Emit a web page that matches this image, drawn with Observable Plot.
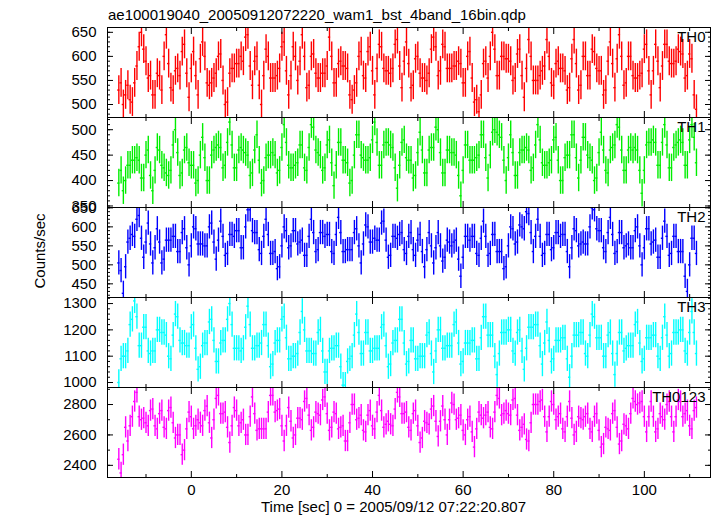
<!DOCTYPE html>
<html><head><meta charset="utf-8">
<script src="https://cdn.jsdelivr.net/npm/d3@7"></script>
<script src="https://cdn.jsdelivr.net/npm/@observablehq/plot@0.6"></script>
<style>
body{margin:0;background:#fff;}
#chart{position:relative;width:717px;height:516px;font-family:"Liberation Sans",Arial,Helvetica,sans-serif;color:#000;overflow:hidden;background:#fff}
.t{position:absolute;font-size:15px;line-height:15px;white-space:nowrap}
#chart svg{position:absolute;left:0;overflow:visible}
</style></head><body>
<div id="chart">
  <div class="t" id="title" style="left:108px;top:7px">ae100019040_20050912072220_wam1_bst_4band_16bin.qdp</div>
  <div class="t" id="ylab" style="left:39px;top:251px;transform:translate(-50%,-50%) rotate(-90deg)">Counts/sec</div>
  <div class="t" id="xlab" style="left:261px;top:499px">Time [sec] 0 = 2005/09/12 07:22:20.807</div>
</div>
<script>
// ---- data: 0.5 s bins starting at t = -16 s ----
const timeStart = -16;
const binSize = 0.5;
const panelLabels = ["TH0", "TH1", "TH2", "TH3", "TH0123"];
const panelColors = ["#ff0000", "#00ee00", "#0000ff", "#00ffff", "#ff00ff"];
const yDomains = [[473, 660], [347, 524], [414, 651], [981, 1323], [2320, 2912]];
const yMajorTicks = [[500, 550, 600, 650], [350, 400, 450, 500], [450, 500, 550, 600, 650], [1000, 1100, 1200, 1300], [2400, 2600, 2800]];
const yMinorSteps = [10, 10, 10, 20, 100];
const errorBars = [30, 27, 32, 48, 70];
const xMajorTicks = [0, 20, 40, 60, 80, 100];
const xMinorTicks = [-10, 10, 30, 50, 70, 90, 110];

const th0 = [
530,545,500,520,540,510,505,545,580,620,650,615,590,555,560,520,
520,565,560,530,600,645,585,535,530,570,575,560,610,625,565,515,
575,610,560,520,595,630,600,545,540,545,555,565,600,605,550,500,
505,565,575,575,585,585,600,590,640,645,580,540,590,600,540,500,
560,615,600,555,555,555,560,575,620,630,570,520,560,620,600,550,
590,645,600,535,540,600,605,565,555,555,565,565,580,640,600,545,
545,585,590,580,580,575,520,510,530,545,600,610,560,555,610,620,
570,520,575,625,620,575,570,570,565,575,625,635,580,535,590,630,
585,535,540,595,600,565,555,555,550,565,615,640,620,560,570,625,
620,575,575,575,580,580,590,585,545,545,600,610,555,505,510,485,
520,585,590,555,600,650,615,560,560,600,600,595,595,590,550,555,
605,615,560,515,575,635,600,550,550,550,560,570,580,635,600,545,
540,585,590,575,575,570,530,535,595,635,585,530,540,600,600,560,
560,615,610,575,570,570,520,530,590,630,585,535,595,645,600,540,
545,600,600,560,555,555,560,565,615,625,570,520,570,625,590,535,
580,625,625,590,585,585,590,615,610,605,555,560,605,595,520,490];

const th1 = [
395,420,380,400,430,430,440,440,445,440,405,405,450,460,410,380,
420,465,460,430,425,415,410,420,470,500,455,410,415,460,465,435,
430,430,395,400,450,485,445,400,400,450,460,465,470,465,425,430,
475,515,470,425,425,460,465,460,455,450,410,415,460,490,440,395,
400,445,450,450,455,450,415,420,465,510,475,430,425,425,430,435,
470,470,425,420,465,510,505,460,455,450,420,425,470,480,435,390,
430,475,475,440,440,435,395,400,450,490,490,450,445,440,440,445,
480,515,475,430,430,470,475,475,470,465,425,385,430,475,480,445,
440,440,405,410,455,495,460,415,415,460,465,465,505,500,455,415,
415,460,460,455,455,450,410,370,420,470,470,440,440,440,445,450,
490,490,445,405,450,495,500,495,490,485,440,400,445,490,455,410,
410,455,460,460,465,460,420,425,470,510,480,435,430,430,435,440,
480,485,440,400,400,445,450,450,490,490,445,405,440,485,485,450,
445,440,400,405,455,495,460,420,415,460,465,470,510,505,460,420,
420,460,465,460,465,460,420,375,420,470,475,475,480,475,430,430,
475,510,470,425,425,465,470,475,480,475,430,430,480,510,485,435];

const th2 = [
505,485,425,495,560,570,580,575,620,630,570,520,560,610,555,505,
545,595,560,505,515,565,565,565,575,575,535,535,585,595,545,500,
550,600,595,555,555,555,550,550,600,610,560,515,565,615,575,525,
530,580,580,575,590,590,545,545,600,645,645,590,585,585,540,530,
575,620,580,530,530,535,490,495,550,600,590,545,550,590,590,555,
560,565,525,525,575,620,585,535,540,585,585,575,580,580,535,530,
580,625,585,535,535,540,540,540,585,595,550,505,555,605,600,560,
560,570,565,565,610,615,565,520,525,575,575,570,580,585,540,530,
575,585,540,525,565,580,535,495,540,585,550,505,545,585,550,510,
520,565,560,550,560,565,515,470,520,575,575,565,575,575,530,525,
570,615,575,525,530,580,580,535,535,535,490,495,550,600,595,555,
560,605,600,595,640,635,585,535,575,620,575,525,530,580,580,540,
545,585,585,575,580,580,535,495,545,595,590,550,555,560,555,555,
600,650,645,595,590,590,545,535,585,625,580,530,535,585,585,545,
550,555,545,545,590,600,550,500,545,595,595,555,560,565,520,520,
570,615,575,525,530,575,575,535,535,535,470,430,500,570,570,530];

const th3 = [
1000,1090,1100,1100,1120,1220,1240,1310,1250,1140,1140,1210,1210,1120,1110,1120,
1120,1200,1200,1190,1190,1180,1100,1090,1180,1260,1250,1160,1150,1150,1140,1140,
1210,1220,1130,1050,1060,1140,1150,1150,1230,1240,1160,1080,1080,1150,1160,1160,
1240,1300,1220,1130,1130,1130,1120,1130,1210,1290,1220,1130,1130,1140,1140,1150,
1220,1220,1140,1060,1070,1150,1160,1160,1240,1250,1170,1090,1090,1100,1100,1110,
1190,1270,1200,1120,1120,1120,1110,1110,1190,1200,1120,1040,1040,1120,1130,1130,
1140,1140,1060,990,990,1080,1090,1100,1180,1260,1190,1110,1110,1190,1190,1120,
1120,1130,1130,1130,1210,1220,1140,1060,1070,1150,1160,1160,1240,1240,1150,1070,
1080,1160,1160,1090,1090,1100,1100,1100,1180,1190,1110,1040,1120,1200,1200,1130,
1130,1140,1140,1140,1220,1230,1150,1070,1080,1150,1150,1150,1160,1160,1090,1090,
1170,1250,1250,1180,1180,1180,1100,1030,1110,1190,1190,1190,1200,1200,1120,1110,
1190,1200,1120,1050,1130,1210,1210,1210,1220,1220,1140,1070,1150,1230,1160,1080,
1090,1160,1160,1160,1170,1170,1090,1020,1100,1180,1180,1180,1190,1190,1110,1100,
1180,1260,1250,1170,1170,1170,1100,1100,1180,1190,1110,1030,1110,1190,1190,1120,
1130,1140,1140,1140,1220,1230,1150,1080,1090,1170,1170,1170,1180,1180,1100,1090,
1170,1250,1180,1100,1110,1190,1190,1190,1200,1200,1120,1110,1190,1270,1190,1110];

const th0123 = [
2440,2350,2470,2650,2560,2660,2720,2820,2880,2720,2700,2710,2680,2660,2760,2770,
2660,2640,2740,2760,2650,2640,2760,2780,2680,2580,2600,2600,2470,2500,2640,2750,
2720,2640,2660,2700,2680,2660,2760,2790,2680,2580,2700,2840,2860,2740,2740,2750,
2650,2550,2660,2780,2760,2660,2680,2700,2600,2600,2720,2850,2740,2630,2640,2640,
2640,2640,2750,2860,2860,2750,2760,2770,2660,2560,2660,2780,2690,2580,2600,2710,
2710,2700,2820,2840,2730,2630,2650,2750,2740,2730,2830,2850,2740,2630,2650,2750,
2740,2640,2650,2660,2560,2560,2680,2800,2800,2700,2710,2730,2630,2620,2730,2760,
2660,2640,2750,2860,2760,2650,2670,2690,2670,2660,2770,2880,2850,2740,2740,2750,
2650,2630,2740,2760,2660,2550,2580,2690,2680,2670,2770,2790,2690,2590,2690,2790,
2700,2600,2700,2810,2800,2700,2710,2730,2630,2600,2700,2720,2620,2520,2640,2750,
2730,2710,2730,2750,2650,2640,2750,2860,2840,2730,2740,2760,2740,2730,2830,2840,
2730,2630,2650,2670,2570,2560,2680,2800,2800,2800,2820,2830,2720,2620,2720,2820,
2800,2700,2720,2740,2640,2620,2720,2820,2710,2600,2620,2720,2710,2700,2720,2740,
2640,2620,2720,2740,2630,2520,2540,2650,2640,2630,2740,2760,2650,2540,2560,2670,
2660,2640,2740,2840,2820,2800,2810,2820,2720,2620,2720,2820,2720,2620,2640,2740,
2720,2700,2800,2820,2720,2620,2720,2830,2820,2720,2740,2760,2660,2640,2760,2780];

const seriesValues = [th0, th1, th2, th3, th0123];

// ---- layout ----
const xDomain = [-18.5, 114.6];
const panelTops = [27, 117, 207, 297, 387];
const panelHeight = 90;
const font = '"Liberation Sans", Arial, Helvetica, sans-serif';
const chart = document.getElementById("chart");

seriesValues.forEach((values, k) => {
  const isLast = k === seriesValues.length - 1;
  const mt = 1, mb = isLast ? 40 : 1;
  const err = errorBars[k];
  const color = panelColors[k];
  const [lo, hi] = yDomains[k];
  const step = yMinorSteps[k];
  const yMinor = d3.range(Math.ceil(lo / step) * step, hi, step);
  const data = values.map((v, i) => ({t: timeStart + binSize * i, v}));
  const noText = () => "";
  const plain = d => String(d);
  const tickColor = "#000";
  const marks = [
    Plot.ruleX(data, {x: "t", y1: d => d.v - err, y2: d => d.v + err, stroke: color, strokeWidth: 1.4, clip: true}),
    Plot.ruleY(data, {y: "v", x1: d => d.t - binSize / 2, x2: d => d.t + binSize / 2, stroke: color, strokeWidth: 1.4, clip: true}),
    Plot.axisX(xMajorTicks, {anchor: "bottom", tickSize: -6, tickFormat: noText, label: null, stroke: tickColor}),
    Plot.axisX(xMinorTicks, {anchor: "bottom", tickSize: -3, tickFormat: noText, label: null, stroke: tickColor}),
    Plot.axisX(xMajorTicks, {anchor: "top", tickSize: -6, tickFormat: noText, label: null, stroke: tickColor}),
    Plot.axisX(xMinorTicks, {anchor: "top", tickSize: -3, tickFormat: noText, label: null, stroke: tickColor}),
    Plot.axisY(yMajorTicks[k], {anchor: "left", tickSize: -6, tickFormat: noText, label: null, stroke: tickColor}),
    Plot.axisY(yMinor, {anchor: "left", tickSize: -3, tickFormat: noText, label: null, stroke: tickColor}),
    Plot.axisY(yMajorTicks[k], {anchor: "right", tickSize: -6, tickFormat: noText, label: null, stroke: tickColor}),
    Plot.axisY(yMinor, {anchor: "right", tickSize: -3, tickFormat: noText, label: null, stroke: tickColor}),
    Plot.axisY(yMajorTicks[k], {anchor: "left", tickSize: 0, tickPadding: 11, tickFormat: plain, label: null, fontSize: 15, fill: "#000"}),
    Plot.frame({stroke: "#000", strokeWidth: 1}),
    Plot.text([panelLabels[k]], {frameAnchor: "top-right", text: d => d, dx: -5, dy: 4, textAnchor: "end", lineAnchor: "top", fontSize: 15, fill: "#000"})
  ];
  if (isLast) {
    marks.push(Plot.axisX(xMajorTicks, {anchor: "bottom", tickSize: 0, tickPadding: 7, tickFormat: plain, label: null, fontSize: 15, fill: "#000"}));
  }
  const svg = Plot.plot({
    width: 717,
    height: panelHeight + mt + mb,
    marginLeft: 107, marginRight: 7, marginTop: mt, marginBottom: mb,
    x: {domain: xDomain},
    y: {domain: yDomains[k]},
    style: {fontFamily: font, fontSize: "15px", background: "transparent", color: "#000"},
    marks
  });
  svg.style.top = (panelTops[k] - mt) + "px";
  chart.appendChild(svg);
});
</script>
</body></html>
